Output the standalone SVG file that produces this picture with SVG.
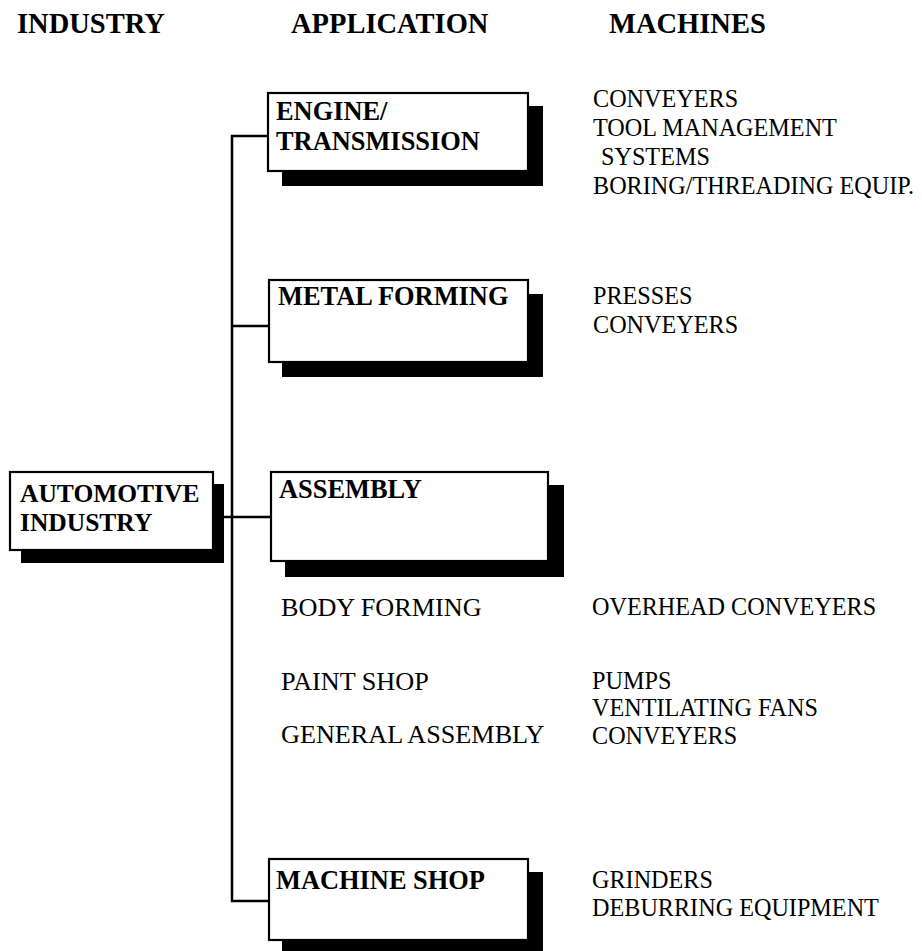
<svg xmlns="http://www.w3.org/2000/svg" width="922" height="951" viewBox="0 0 922 951">
  <style>
    .hdr { font-family: "Liberation Serif", "Times New Roman", serif; font-weight: bold; font-size: 28.5px; fill: #000; }
    .lbl { font-family: "Liberation Serif", "Times New Roman", serif; font-weight: bold; font-size: 26.4px; fill: #000; }
    .lbl-sm { font-size: 25.5px; }
    .sub { font-family: "Liberation Serif", "Times New Roman", serif; font-size: 26.2px; fill: #000; }
    .mach { font-family: "Liberation Serif", "Times New Roman", serif; font-size: 24.2px; fill: #000; }
    .box { fill: #fff; stroke: #000; stroke-width: 2.2; }
    .shadow { fill: #000; }
    .wire { fill: none; stroke: #000; stroke-width: 2.5; }
  </style>
  <rect width="922" height="951" fill="#fff"/>

  <!-- column headings -->
  <g id="headings">
    <text class="hdr" x="17" y="33">INDUSTRY</text>
    <text class="hdr" x="291" y="33">APPLICATION</text>
    <text class="hdr" x="609" y="33">MACHINES</text>
  </g>

  <!-- tree connectors -->
  <g id="connectors">
    <path class="wire" d="M268 136 H232 V901 H269"/>
    <line class="wire" x1="232" y1="326" x2="269" y2="326"/>
    <line class="wire" x1="213" y1="517" x2="271" y2="517"/>
  </g>

  <g id="automotive-industry">
    <rect class="shadow" x="21" y="484" width="203" height="79"/>
    <rect class="box" x="10" y="472" width="203" height="78"/>
    <text class="lbl lbl-sm" x="20" y="502">AUTOMOTIVE</text>
    <text class="lbl lbl-sm" x="20" y="531">INDUSTRY</text>
  </g>

  <g id="engine-transmission">
    <rect class="shadow" x="282" y="106" width="261" height="80"/>
    <rect class="box" x="268" y="93" width="260" height="78"/>
    <text class="lbl" x="276" y="120">ENGINE/</text>
    <text class="lbl" x="276" y="150">TRANSMISSION</text>
  </g>

  <g id="metal-forming">
    <rect class="shadow" x="282" y="294" width="261" height="83"/>
    <rect class="box" x="269" y="280" width="259" height="82"/>
    <text class="lbl" x="278" y="305">METAL FORMING</text>
  </g>

  <g id="assembly">
    <rect class="shadow" x="285" y="485" width="279" height="92"/>
    <rect class="box" x="271" y="472" width="277" height="89"/>
    <text class="lbl" x="279" y="498">ASSEMBLY</text>
  </g>

  <g id="machine-shop">
    <rect class="shadow" x="282" y="872" width="261" height="85"/>
    <rect class="box" x="269" y="859" width="259" height="81"/>
    <text class="lbl" x="276" y="889">MACHINE SHOP</text>
  </g>

  <!-- assembly sub-areas -->
  <g id="assembly-areas">
    <text class="sub" x="281" y="616">BODY FORMING</text>
    <text class="sub" x="281" y="690">PAINT SHOP</text>
    <text class="sub" x="281" y="743">GENERAL ASSEMBLY</text>
  </g>

  <!-- machine lists -->
  <g id="machines-engine">
    <text class="mach" x="593" y="107">CONVEYERS</text>
    <text class="mach" x="593" y="136">TOOL MANAGEMENT</text>
    <text class="mach" x="601" y="165">SYSTEMS</text>
    <text class="mach" x="593" y="194">BORING/THREADING EQUIP.</text>
  </g>
  <g id="machines-metal">
    <text class="mach" x="593" y="304">PRESSES</text>
    <text class="mach" x="593" y="333">CONVEYERS</text>
  </g>
  <g id="machines-assembly">
    <text class="mach" x="592" y="615">OVERHEAD CONVEYERS</text>
    <text class="mach" x="592" y="689">PUMPS</text>
    <text class="mach" x="592" y="716">VENTILATING FANS</text>
    <text class="mach" x="592" y="744">CONVEYERS</text>
  </g>
  <g id="machines-shop">
    <text class="mach" x="592" y="888">GRINDERS</text>
    <text class="mach" x="592" y="916">DEBURRING EQUIPMENT</text>
  </g>
</svg>
